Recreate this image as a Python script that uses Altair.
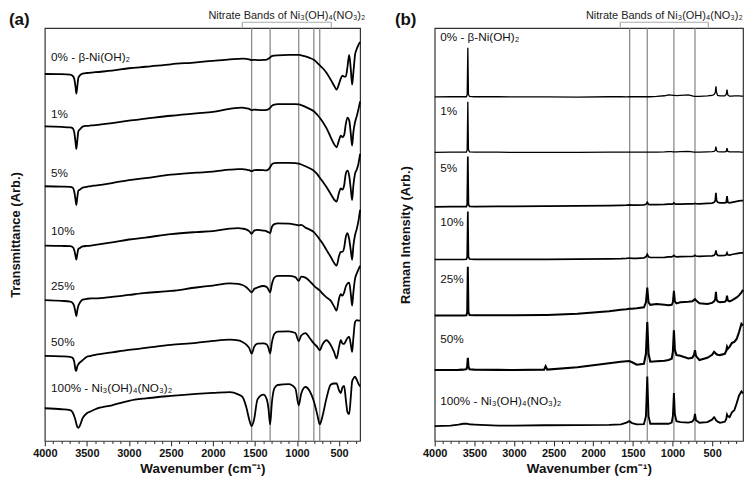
import altair as alt
import pandas as pd

FONT = "Liberation Sans"
TOP = 417  # arbitrary-unit height of each plot box

# ---------------- FTIR (panel a) ----------------
ftir_wn = [4000, 3800, 3700, 3670, 3650, 3635, 3625, 3615, 3600, 3580,
           3550, 3500, 3450, 3400, 3200, 3000, 2800, 2500, 2200, 2000,
           1800, 1700, 1650, 1600, 1570, 1540, 1510, 1470, 1400, 1360,
           1340, 1320, 1300, 1270, 1230, 1100, 1020, 980, 950, 900,
           850, 800, 760, 730, 700, 650, 600, 560, 530, 500,
           480, 460, 440, 420, 400, 380, 360, 345, 330, 310,
           290, 270, 250]

ftir_0 = [370.7, 370.5, 370, 369, 366, 358, 351, 357, 367, 369.5,
          371, 371.7, 372, 372.5, 374, 376.5, 378, 380.5, 382.5, 384,
          385.5, 386, 386.2, 386, 385.5, 384.7, 385, 384.8, 385, 385.3,
          386, 387.5, 388.7, 389.3, 389.6, 390, 390, 390, 389.6, 388.5,
          387, 385, 382, 379.5, 377, 372, 365, 359, 355, 361,
          366, 369, 368, 368, 378, 390, 375, 360, 372, 390,
          396, 400, 403]
ftir_1 = [317.7, 317.2, 316.7, 316, 312, 302, 295, 302, 313, 315,
          317.5, 318.3, 318.7, 319, 321, 323.5, 325.5, 328.5, 331, 332.5,
          335.5, 336.5, 336.7, 336, 335.5, 334.3, 334.7, 334.5, 334.3, 334.5,
          335, 336.5, 338.5, 339.8, 340.2, 340.3, 340.3, 339.9, 339.3, 337.5,
          335.5, 333, 329.5, 326.5, 323, 316, 307, 300, 296.7, 304,
          308.3, 307, 309, 320, 326.7, 324, 310, 298.3, 312, 322,
          328, 335, 343]
ftir_5 = [257.3, 257, 256.7, 256, 252, 244, 238.3, 245, 253, 254,
          256, 256.7, 257.5, 258, 260.5, 263.5, 265.5, 269, 271, 272,
          274, 274.5, 274.5, 274, 273.5, 272.5, 273.5, 273.7, 273.5, 273.3,
          274.3, 276.5, 279.3, 280.6, 280.8, 280.8, 280.7, 280.2, 279.3, 277.5,
          275.5, 273, 269.5, 266, 262.5, 256.5, 249.5, 244, 241.7, 251,
          255, 254, 258, 270, 273, 268, 254, 243.3, 258, 270,
          274, 280, 290]
ftir_10 = [197.3, 197, 196.7, 196, 193, 187, 183.3, 188, 194, 195,
           196.5, 197, 197.3, 198, 200.5, 203.5, 205.5, 209, 211, 212,
           214.5, 215, 214.5, 213.5, 212, 209.3, 212.5, 213.3, 212.5, 211.7,
           210.8, 210, 216, 219, 219.8, 219.5, 218.5, 217.8, 218.3, 215.5,
           213.5, 211, 207, 203.5, 200, 193, 186, 180, 177, 187,
           191, 191, 195, 206, 210, 204, 192, 183, 197, 208,
           214, 222, 233.3]
ftir_25 = [142.3, 141.5, 140.7, 139.5, 136, 130, 126, 131, 136.7, 140,
           142.7, 143.5, 144, 144, 145.5, 147.5, 149.5, 151.5, 155, 157,
           159.2, 158.7, 157.5, 155, 152.5, 150, 153.5, 155, 156.5, 155.5,
           153, 150, 158, 165, 166.7, 166.7, 165.5, 161.7, 166, 165,
           161.5, 157, 154, 152, 149, 145, 141.7, 136, 131.7, 144,
           148.3, 146.7, 150, 156, 159, 160, 148, 136.7, 150, 164,
           169, 173, 177]
ftir_50 = [86, 85.5, 85, 84, 80, 72, 70.7, 75, 77.5, 79.5,
           81.5, 85, 86, 87, 89.5, 92, 94, 97, 99, 101,
           102.3, 101.5, 100, 97, 94, 88.3, 95, 98.3, 98.5, 97.5,
           94, 88.3, 99, 108, 110.5, 110.7, 109, 100.7, 106.5, 109,
           104, 98.5, 95, 91.5, 97, 101.7, 97, 90, 83.3, 95,
           101.7, 98.5, 98, 101, 104, 105, 97, 90, 104, 120,
           122, 121.5, 121.7]
ftir_100 = [33, 32, 31, 29, 25, 21, 17.5, 14.5, 13.3, 16,
            23, 28, 30, 32, 36, 40.5, 43, 45.5, 47.5, 48.5,
            49.3, 47, 44.5, 33, 22, 15, 22, 42, 46.7, 42,
            33, 16.7, 38, 53, 56.5, 57.3, 53, 36, 48, 54.5,
            50.5, 40, 27, 16.7, 24, 43, 56.7, 58, 58, 51,
            48.3, 54, 55.5, 42, 29, 27, 45, 60, 63, 65,
            62, 58, 55]

# ---------------- Raman (panel b) ----------------
raman_wn = [4000, 3800, 3700, 3640, 3600, 3590, 3582, 3574, 3560, 3500,
            3200, 3000, 2620, 2600, 2580, 2200, 1800, 1650, 1580, 1545,
            1510, 1450, 1360, 1335, 1318, 1302, 1280, 1200, 1100, 1050,
            1010, 995, 982, 970, 950, 900, 800, 750, 728, 716,
            704, 660, 560, 500, 475, 460, 452, 444, 430, 400,
            340, 322, 312, 302, 280, 250, 220, 190, 160, 130,
            110]

raman_0 = [347.5, 347.7, 347.7, 347.7, 347.7, 350, 397.3, 350, 348, 347.7,
           347.8, 347.5, 347.5, 347.5, 347.5, 347.3, 347.7, 347.7, 347.5, 347.7,
           347.7, 347.7, 347.7, 347.7, 347.8, 347.7, 347.7, 348, 348.7, 349.5,
           349.3, 349, 349, 349, 348.8, 349, 349.5, 348.5, 348, 348,
           348, 348, 348.5, 349, 350, 352, 358.3, 352, 349, 348.5,
           348.5, 350, 355, 349.5, 348.3, 348.3, 348.5, 348.5, 348.5, 348.3,
           348.3]
raman_1 = [291.5, 291.7, 291.7, 291.7, 291.7, 294, 342.7, 294, 292, 291.7,
           291.7, 291.5, 291.5, 291.5, 291.5, 291.5, 291.7, 291.7, 291.7, 291.7,
           291.7, 291.7, 291.7, 291.7, 291.8, 291.7, 291.7, 291.8, 292, 292.3,
           292.2, 292, 292, 292, 292, 292.2, 292.5, 292, 291.8, 291.8,
           291.8, 291.8, 292, 292.2, 292.5, 293.5, 297.3, 293.5, 292.3, 292,
           292, 292.5, 295.7, 292.5, 292, 292, 292, 292, 292, 291.8,
           291.8]
raman_5 = [236.5, 236.7, 236.8, 236.8, 236.8, 239, 287.3, 239, 237, 236.8,
           237, 237, 237.2, 237.2, 237.2, 237.5, 237.8, 238, 238.2, 238.5,
           238.3, 238.3, 238.5, 239, 241, 239, 238.8, 238.8, 239, 239.3,
           239.3, 239.5, 240.5, 239.5, 239.3, 239.3, 239.5, 239.5, 239.6, 240,
           239.6, 239.5, 240, 240.3, 241, 243, 250.7, 243, 241, 240.5,
           240.5, 241, 247.3, 241, 240.5, 241, 241.5, 242, 242.5, 242.7,
           242.7]
raman_10 = [183.3, 183.3, 183.3, 183.3, 183.5, 186, 231.7, 186, 183.8, 183.5,
            183.5, 183.5, 183.5, 183.5, 183.5, 183.7, 184, 184.2, 184.5, 184.8,
            184.5, 184.5, 185, 186, 188.5, 186, 185.3, 185.3, 185.5, 186,
            186, 186.5, 187.5, 186.5, 186, 186.2, 186.3, 186.3, 186.8, 187.5,
            186.8, 186.5, 186.8, 187, 187.5, 189, 192.5, 189, 187.5, 187.3,
            187.5, 188, 190, 188, 187.8, 188.3, 188.8, 189.3, 189.8, 190,
            190]
raman_25 = [126.7, 126.8, 126.8, 126.8, 127, 130, 176, 130, 127.2, 127,
            127, 127, 127.3, 127.3, 127.3, 128.5, 131, 132.5, 133, 133.5,
            133.5, 134, 135, 140, 155, 140, 137.5, 138.3, 137.5, 137,
            137.5, 140, 151.7, 141, 139, 140, 140.5, 141, 142.5, 143.3,
            142, 139, 138.3, 139.5, 141, 143.5, 150.7, 143, 141, 140,
            140.5, 142, 146.7, 142, 141, 142, 143.5, 145, 147, 150,
            152.7]
raman_50 = [71.7, 71.7, 71.8, 72, 72.5, 75, 84, 75, 72.5, 72,
            71.8, 71.7, 72, 75.5, 72, 74.5, 78.5, 80, 80.5, 80.7,
            79.5, 77, 78, 88, 120, 88, 80, 80.5, 81, 81.7,
            83, 90, 111.7, 92, 86.7, 86, 83.3, 84, 87, 91.7,
            86, 81.7, 84, 87, 90, 89, 88, 87.5, 87, 86.7,
            88, 91, 95, 93, 95, 99, 100, 103, 110, 118.3,
            116.7]
raman_100 = [15, 15.5, 16.5, 17.3, 17.5, 17.3, 17.2, 17, 16.8, 16.5,
             15.5, 15.5, 15.8, 15.8, 15.8, 16, 16.2, 16.7, 18.5, 20,
             18, 16.7, 17, 25, 65, 25, 17.3, 17.3, 17.3, 17.3,
             18.5, 25, 48.3, 27, 20, 19, 18.5, 19.5, 22, 27.3,
             21, 18.3, 19, 21.5, 24, 22.5, 21, 20.5, 19.5, 18.3,
             19.5, 22, 26.7, 25, 24, 29, 31, 38, 46, 50,
             48]

trace_names = ["0% - β-Ni(OH)₂", "1%", "5%", "10%", "25%", "50%",
               "100% - Ni₃(OH)₄(NO₃)₂"]
ftir_label_val = [388, 330, 270.7, 211.7, 156.7, 100, 53.3]
raman_label_val = [408.3, 333.3, 276, 220.7, 164, 102.7, 40]

ftir_stroke = [1.8, 1.8, 1.8, 1.8, 1.8, 1.8, 1.8]
raman_stroke = [1.3, 1.3, 1.7, 1.7, 2.0, 2.1, 1.9]

ftir_nitrate = [1540, 1320, 980, 800, 730]
raman_nitrate = [1540, 1318, 982, 716]
ftir_bracket = [1651, 592]
raman_bracket = [1659, 548]
bracket_text = "Nitrate Bands of Ni₃(OH)₄(NO₃)₂"

ftir_ticks = list(range(300, 4001, 100))
raman_ticks = list(range(200, 4001, 100))


def panel(tag, tag_dx, wn, traces, strokes, label_vals, label_wn, nitrate,
          bracket, xmin, ticks, ytitle, interp, width):
    rows = []
    for i, tr in enumerate(traces):
        for w, v in zip(wn, tr):
            rows.append({"wn": w, "val": v, "trace": i, "sw": strokes[i]})
    df = pd.DataFrame(rows)

    xs = alt.Scale(domain=[xmin, 4000], reverse=True, nice=False, zero=False)
    ys = alt.Scale(domain=[0, TOP], nice=False, zero=False)
    xaxis = alt.Axis(
        title="Wavenumber (cm⁻¹)", values=ticks, grid=False, domain=False,
        labelExpr="datum.value % 500 === 0 ? datum.label : ''",
        tickSize={"condition": {"test": "datum.value % 500 === 0", "value": 5},
                  "value": 2.5},
        tickColor="#222", tickWidth=1, labelFlush=False, labelOverlap=False,
        labelBound=False, labelFont=FONT, labelFontSize=11,
        labelFontWeight="bold", labelColor="#111", labelPadding=2,
        titleFont=FONT, titleFontSize=13.5, titleFontWeight="bold",
        titleColor="#111", titlePadding=3, format="d")
    yaxis = alt.Axis(title=ytitle, labels=False, ticks=False, domain=False,
                     grid=False, titlePadding=22, titleFont=FONT,
                     titleFontSize=13, titleFontWeight="bold",
                     titleColor="#111")

    def X(f):
        return alt.X(f, type="quantitative", scale=xs, axis=xaxis)

    def Y(f):
        return alt.Y(f, type="quantitative", scale=ys, axis=yaxis)

    rules = alt.Chart(pd.DataFrame({"wn": nitrate})).mark_rule(
        color="#8c8c8c", strokeWidth=1.3).encode(x=X("wn"))

    lines = alt.Chart(df).mark_line(
        color="black", interpolate=interp).encode(
        x=X("wn"), y=Y("val"), detail="trace:N",
        strokeWidth=alt.StrokeWidth("sw:Q", scale=None))

    bh = alt.Chart(pd.DataFrame({"x1": [bracket[0]], "x2": [bracket[1]],
                                 "yb": [TOP + 6]})).mark_rule(
        color="#aaaaaa", strokeWidth=1.2, clip=False).encode(
        x=X("x1"), x2="x2", y=Y("yb"))
    bv = alt.Chart(pd.DataFrame({"wn": bracket, "y1": [TOP, TOP],
                                 "y2": [TOP + 6, TOP + 6]})).mark_rule(
        color="#aaaaaa", strokeWidth=1.2, clip=False).encode(
        x=X("wn"), y=Y("y1"), y2="y2")
    btxt = alt.Chart(pd.DataFrame({"wn": [(bracket[0] + bracket[1]) / 2],
                                   "y": [TOP + 9], "t": [bracket_text]})).mark_text(
        font=FONT, fontSize=11, color="#222", baseline="alphabetic",
        align="center", clip=False).encode(x=X("wn"), y=Y("y"), text="t:N")

    labels = alt.Chart(pd.DataFrame({"wn": [label_wn] * len(trace_names),
                                     "val": label_vals,
                                     "name": trace_names})).mark_text(
        font=FONT, fontSize=11.8, color="#111", align="left",
        baseline="middle").encode(x=X("wn"), y=Y("val"), text="name:N")

    tagm = alt.Chart(pd.DataFrame({"k": [0]})).mark_text(
        font=FONT, fontSize=17, fontWeight="bold", color="#111",
        align="left", baseline="middle", clip=False).encode(
        x=alt.value(tag_dx), y=alt.value(-8), text=alt.value(tag))

    return alt.layer(rules, lines, bh, bv, btxt, labels, tagm).properties(
        width=width, height=415)


pa = panel("(a)", -36, ftir_wn,
           [ftir_0, ftir_1, ftir_5, ftir_10, ftir_25, ftir_50, ftir_100],
           ftir_stroke, ftir_label_val, 3925, ftir_nitrate, ftir_bracket, 250,
           ftir_ticks, "Transmittance (Arb.)", "monotone", 317)
pb = panel("(b)", -40, raman_wn,
           [raman_0, raman_1, raman_5, raman_10, raman_25, raman_50, raman_100],
           raman_stroke, raman_label_val, 3930, raman_nitrate, raman_bracket,
           110, raman_ticks, "Raman Intensity (Arb.)", "linear", 310)

chart = alt.hconcat(pa, pb, spacing=75, bounds="flush").properties(
    padding={"left": 0, "top": 0, "right": 0, "bottom": 0}
).configure_view(stroke="#333333", strokeWidth=1.2)

chart.save("out.html", embed_options={"renderer": "svg", "actions": False})
